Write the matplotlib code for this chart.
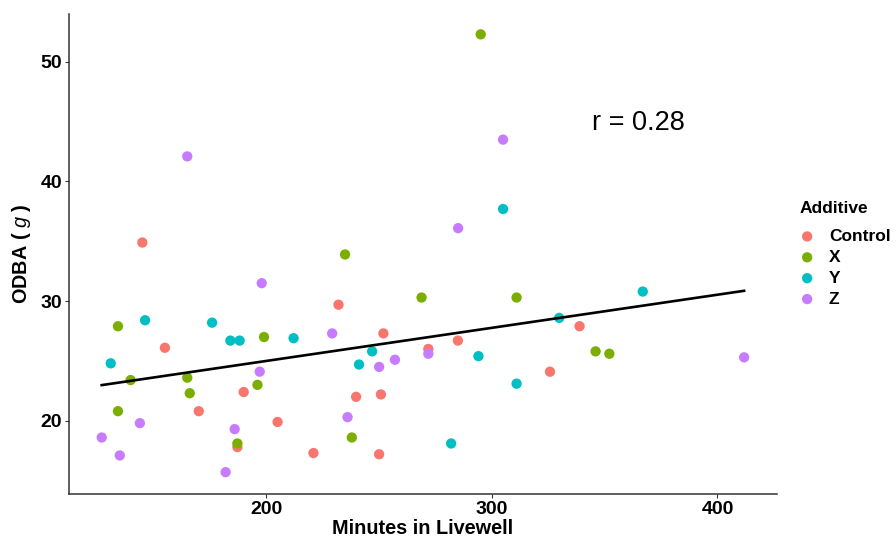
import matplotlib
matplotlib.use('Agg')
import matplotlib.pyplot as plt
import numpy as np

plt.rcParams['font.family'] = ['Liberation Sans', 'DejaVu Sans']
plt.rcParams['mathtext.fontset'] = 'custom'
plt.rcParams['mathtext.it'] = 'Liberation Sans:italic'
plt.rcParams['mathtext.rm'] = 'Liberation Sans'

groups = ['Control', 'X', 'Y', 'Z']
colors = ['#F8766D', '#7CAE00', '#00BFC4', '#C77CFF']

control_min = [145.2, 232.1, 155.2, 190.1, 239.9, 170.2, 205.1, 187.3, 221.0,
               338.9, 252.0, 285.0, 271.9, 325.8, 250.9, 250.1]
control_odba = [34.9, 29.7, 26.1, 22.4, 22.0, 20.8, 19.9, 17.8, 17.3,
                27.9, 27.3, 26.7, 26.0, 24.1, 22.2, 17.2]

x_min = [235.0, 295.1, 134.4, 199.1, 140.0, 165.1, 166.2, 196.2, 134.4,
         238.0, 187.3, 268.9, 311.0, 346.0, 352.1]
x_odba = [33.9, 52.3, 27.9, 27.0, 23.4, 23.6, 22.3, 23.0, 20.8,
          18.6, 18.1, 30.3, 30.3, 25.8, 25.6]

y_min = [305.0, 146.4, 176.1, 184.2, 188.3, 212.2, 131.2, 241.2, 329.9,
         247.0, 294.1, 311.0, 282.0, 366.9]
y_odba = [37.7, 28.4, 28.2, 26.7, 26.7, 26.9, 24.8, 24.7, 28.6,
          25.8, 25.4, 23.1, 18.1, 30.8]

z_min = [165.1, 305.0, 285.1, 198.1, 229.3, 197.2, 144.1, 236.1, 127.2,
         186.1, 135.2, 182.1, 271.9, 250.1, 257.1, 411.8]
z_odba = [42.1, 43.5, 36.1, 31.5, 27.3, 24.1, 19.8, 20.3, 18.6,
          19.3, 17.1, 15.7, 25.6, 24.5, 25.1, 25.3]

minutes = [control_min, x_min, y_min, z_min]
odba = [control_odba, x_odba, y_odba, z_odba]

fig = plt.figure(figsize=(8.96, 5.39), dpi=100)
ax = fig.add_axes([0.077, 0.084, 0.790, 0.890])

for name, col, xs, ys in zip(groups, colors, minutes, odba):
    ax.scatter(xs, ys, s=55, color=col, edgecolors='none', label=name, zorder=3)

# overall linear fit
all_x = np.concatenate([np.array(m) for m in minutes])
all_y = np.concatenate([np.array(o) for o in odba])
slope, intercept = np.polyfit(all_x, all_y, 1)
xx = np.array([all_x.min(), all_x.max()])
ax.plot(xx, slope * xx + intercept, color='black', lw=1.9, zorder=4)

ax.text(365, 44.9, 'r = 0.28', fontsize=19.5, ha='center', va='center')

ax.set_xlim(112.7, 426.3)
ax.set_ylim(13.9, 54.0)
ax.set_xticks([200, 300, 400])
ax.set_yticks([20, 30, 40, 50])

for s in ['top', 'right']:
    ax.spines[s].set_visible(False)
for s in ['left', 'bottom']:
    ax.spines[s].set_color('#333333')
    ax.spines[s].set_linewidth(1.1)
ax.tick_params(length=3, width=0.8, color='#333333', labelsize=14, pad=2)
for lab in ax.get_xticklabels() + ax.get_yticklabels():
    lab.set_fontweight('bold')

ax.set_xlabel('Minutes in Livewell', fontsize=14.3, fontweight='bold', labelpad=1)
ax.set_ylabel(r'ODBA ( $\mathit{g}$ )', fontsize=14.3, fontweight='bold', labelpad=5)

leg = ax.legend(title='Additive', loc='upper left', bbox_to_anchor=(1.022, 0.624),
                frameon=False, prop={'weight': 'bold', 'size': 12.5},
                handletextpad=0.8, labelspacing=0.33, markerscale=1.0,
                borderaxespad=0, handlelength=0.9)
leg.get_title().set_fontweight('bold')
leg.get_title().set_fontsize(12.5)
leg._legend_box.align = 'left'
leg._legend_box.sep = 9

fig.savefig('out.png', dpi=100)
